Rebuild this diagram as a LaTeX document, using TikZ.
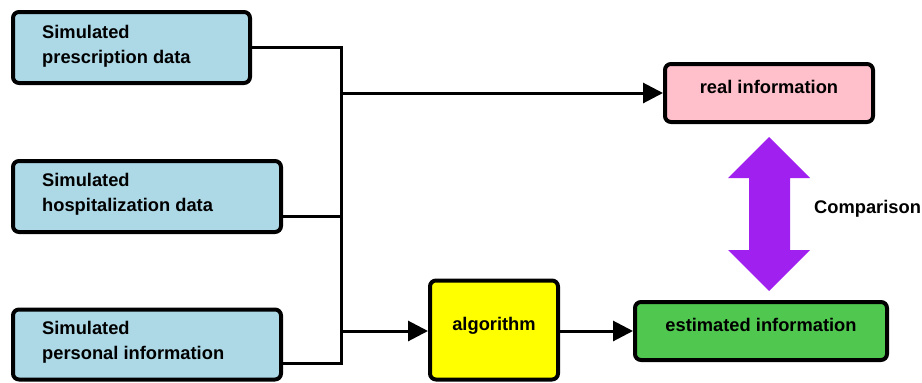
\documentclass[tikz,border=0pt]{standalone}
\usepackage{fontspec}
\setmainfont{Liberation Sans}
\usetikzlibrary{arrows.meta}
\definecolor{srcblue}{RGB}{173,216,230}
\definecolor{realpink}{RGB}{255,192,203}
\definecolor{algyellow}{RGB}{255,255,0}
\definecolor{estgreen}{RGB}{80,200,80}
\definecolor{cmppurple}{RGB}{160,32,240}
\tikzset{
  labelfont/.style={font=\fontsize{18.3pt}{25pt}\selectfont\bfseries},
  box/.style={draw=black, line width=4pt, rounded corners=6pt, inner sep=0pt,
    labelfont, text height=12pt, text depth=12pt},
  srctext/.style={labelfont, align=left, anchor=north west, inner sep=0pt},
  link/.style={line width=3pt, line cap=rect},
  arrowlink/.style={line width=3pt, -{Triangle[length=20pt,width=20pt]}},
}
\begin{document}
\begin{tikzpicture}[x=1pt,y=-1pt]
\useasboundingbox (0,0) rectangle (922,383);

% input data sources
\node[box, fill=srcblue, minimum width=237pt, minimum height=71pt] (pres) at (131.5,47.5) {};
\node[srctext] (prestext) at (42,25) {Simulated\\prescription data};
\node[box, fill=srcblue, minimum width=268pt, minimum height=71pt] (hosp) at (147,196.5) {};
\node[srctext] (hosptext) at (42,173) {Simulated\\hospitalization data};
\node[box, fill=srcblue, minimum width=268pt, minimum height=70pt] (pers) at (147,344.5) {};
\node[srctext] (perstext) at (42,321) {Simulated\\personal information};

% outputs and processing
\node[box, fill=realpink, minimum width=208pt, minimum height=58pt] (real) at (769,93) {real information};
\node[box, fill=algyellow, minimum width=128pt, minimum height=99pt] (alg) at (494,330) {algorithm};
\node[box, fill=estgreen, minimum width=252pt, minimum height=58pt] (est) at (761,331) {estimated information};

% bus collecting the three sources
\coordinate (bustop) at (341,47.5);
\coordinate (busmid) at (341,216);
\coordinate (busbot) at (341,363);
\coordinate (busreal) at (341,93);
\coordinate (busalg) at (341,331);

\draw[link] (pres.east) -- (bustop) -- (busbot);
\draw[link] (hosp.east |- busmid) -- (busmid);
\draw[link] (pers.east |- busbot) -- (busbot);
\draw[arrowlink] (busreal) -- (real.west);
\draw[arrowlink] (busalg) -- (alg.west |- busalg);
\draw[arrowlink] (alg.east |- est.west) -- (est.west);

% comparison double arrow
\fill[cmppurple] (769,137) -- (810,178) -- (790,178) -- (790,250) -- (810,250)
  -- (769,291) -- (728,250) -- (749,250) -- (749,178) -- (728,178) -- cycle;
\node[labelfont, anchor=west, inner sep=0pt] (cmp) at (814,209) {Comparison};
\end{tikzpicture}
\end{document}
